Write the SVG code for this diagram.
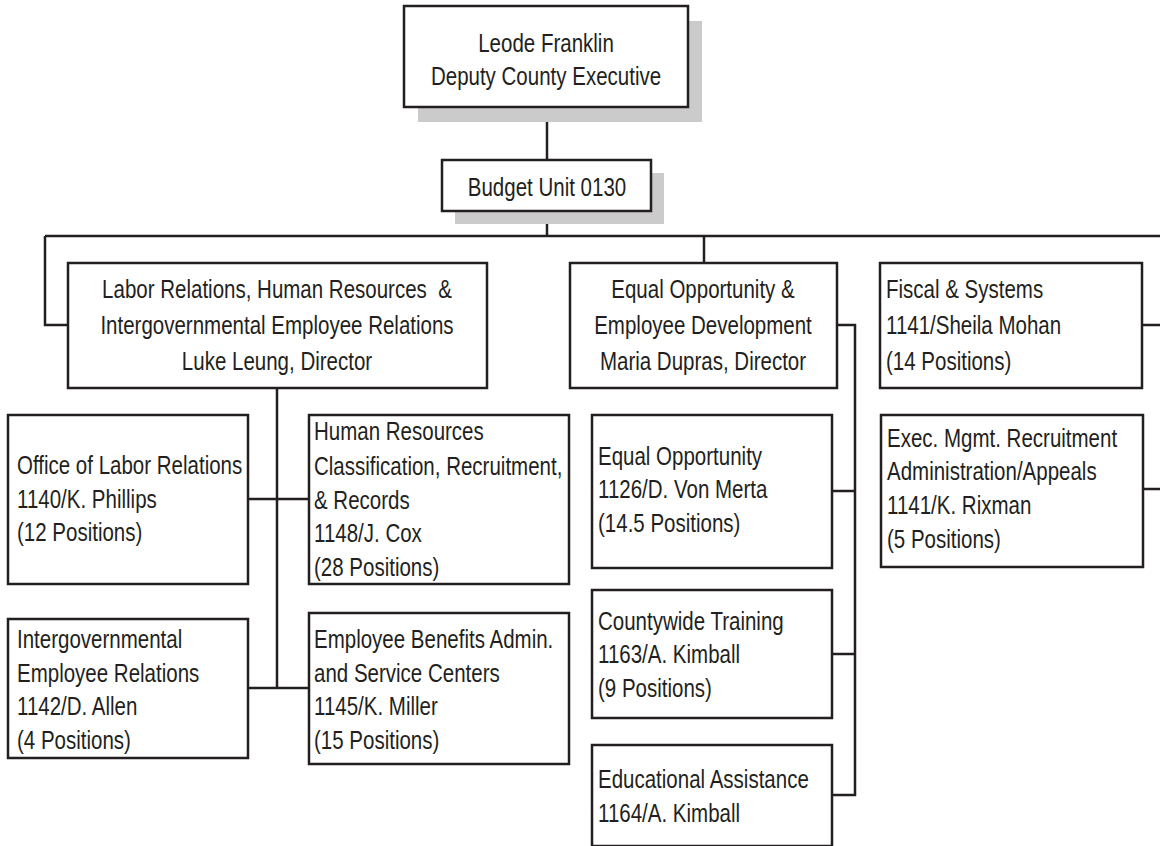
<svg xmlns="http://www.w3.org/2000/svg" width="1160" height="846" viewBox="0 0 1160 846">
  <style>
    .box { fill: #ffffff; stroke: #231f20; stroke-width: 2.5; }
    .shadow { fill: #cbcbcb; stroke: none; }
    .wire { fill: none; stroke: #231f20; stroke-width: 2.5; }
    text { font-family: "Liberation Sans", Arial, sans-serif; font-size: 25px; fill: #231f20; }
    .c { text-anchor: middle; }
  </style>
  <rect width="1160" height="846" fill="#ffffff"/>

  <!-- connectors -->
  <g id="connectors" class="wire">
    <path d="M547 107 V160"/>
    <path d="M547 211 V236"/>
    <path d="M45 236 H1160"/>
    <path d="M45 236 V325 H68"/>
    <path d="M704 236 V263"/>
    <path d="M277 388 V688"/>
    <path d="M248 499 H309"/>
    <path d="M248 688 H309"/>
    <path d="M837 325 H855 V795 H832"/>
    <path d="M832 491 H855"/>
    <path d="M832 654 H855"/>
    <path d="M1142 325 H1160"/>
    <path d="M1142 489 H1160"/>
  </g>

  <!-- condensed lettering: each line is scaled to 82% width -->
  <g id="deputy">
    <rect class="shadow" x="418" y="21" width="284" height="101"/>
    <rect class="box" x="404" y="6" width="284" height="101"/>
    <text class="c" transform="translate(546,52) scale(0.82,1)">Leode Franklin</text>
    <text class="c" transform="translate(546,85) scale(0.82,1)">Deputy County Executive</text>
  </g>

  <g id="budget-unit">
    <rect class="shadow" x="455" y="173" width="209" height="51"/>
    <rect class="box" x="442" y="160" width="209" height="51"/>
    <text class="c" transform="translate(547,196) scale(0.82,1)">Budget Unit 0130</text>
  </g>

  <g id="labor-relations">
    <rect class="box" x="68" y="263" width="419" height="125"/>
    <text class="c" transform="translate(277,298) scale(0.82,1)">Labor Relations, Human Resources&#160; &amp;</text>
    <text class="c" transform="translate(277,334) scale(0.82,1)">Intergovernmental Employee Relations</text>
    <text class="c" transform="translate(277,370) scale(0.82,1)">Luke Leung, Director</text>
  </g>

  <g id="equal-opportunity-dev">
    <rect class="box" x="570" y="263" width="267" height="125"/>
    <text class="c" transform="translate(703,298) scale(0.82,1)">Equal Opportunity &amp;</text>
    <text class="c" transform="translate(703,334) scale(0.82,1)">Employee Development</text>
    <text class="c" transform="translate(703,370) scale(0.82,1)">Maria Dupras, Director</text>
  </g>

  <g id="fiscal-systems">
    <rect class="box" x="880" y="263" width="262" height="125"/>
    <text transform="translate(886,298) scale(0.82,1)">Fiscal &amp; Systems</text>
    <text transform="translate(886,334) scale(0.82,1)">1141/Sheila Mohan</text>
    <text transform="translate(886,370) scale(0.82,1)">(14 Positions)</text>
  </g>

  <g id="office-labor-relations">
    <rect class="box" x="8" y="415" width="240" height="169"/>
    <text transform="translate(17,474) scale(0.82,1)">Office of Labor Relations</text>
    <text transform="translate(17,508) scale(0.82,1)">1140/K. Phillips</text>
    <text transform="translate(17,541) scale(0.82,1)">(12 Positions)</text>
  </g>

  <g id="human-resources">
    <rect class="box" x="309" y="415" width="260" height="169"/>
    <text transform="translate(314,440) scale(0.82,1)">Human Resources</text>
    <text transform="translate(314,475) scale(0.82,1)">Classification, Recruitment,</text>
    <text transform="translate(314,509) scale(0.82,1)">&amp; Records</text>
    <text transform="translate(314,542) scale(0.82,1)">1148/J. Cox</text>
    <text transform="translate(314,576) scale(0.82,1)">(28 Positions)</text>
  </g>

  <g id="intergovernmental">
    <rect class="box" x="8" y="619" width="240" height="139"/>
    <text transform="translate(17,648) scale(0.82,1)">Intergovernmental</text>
    <text transform="translate(17,682) scale(0.82,1)">Employee Relations</text>
    <text transform="translate(17,715) scale(0.82,1)">1142/D. Allen</text>
    <text transform="translate(17,749) scale(0.82,1)">(4 Positions)</text>
  </g>

  <g id="employee-benefits">
    <rect class="box" x="309" y="613" width="260" height="151"/>
    <text transform="translate(314,648) scale(0.82,1)">Employee Benefits Admin.</text>
    <text transform="translate(314,682) scale(0.82,1)">and Service Centers</text>
    <text transform="translate(314,715) scale(0.82,1)">1145/K. Miller</text>
    <text transform="translate(314,749) scale(0.82,1)">(15 Positions)</text>
  </g>

  <g id="equal-opportunity">
    <rect class="box" x="592" y="415" width="240" height="153"/>
    <text transform="translate(598,465) scale(0.82,1)">Equal Opportunity</text>
    <text transform="translate(598,498) scale(0.82,1)">1126/D. Von Merta</text>
    <text transform="translate(598,532) scale(0.82,1)">(14.5 Positions)</text>
  </g>

  <g id="countywide-training">
    <rect class="box" x="592" y="590" width="240" height="128"/>
    <text transform="translate(598,630) scale(0.82,1)">Countywide Training</text>
    <text transform="translate(598,663) scale(0.82,1)">1163/A. Kimball</text>
    <text transform="translate(598,697) scale(0.82,1)">(9 Positions)</text>
  </g>

  <g id="educational-assistance">
    <rect class="box" x="592" y="745" width="240" height="101"/>
    <text transform="translate(598,788) scale(0.82,1)">Educational Assistance</text>
    <text transform="translate(598,822) scale(0.82,1)">1164/A. Kimball</text>
  </g>

  <g id="exec-mgmt-recruitment">
    <rect class="box" x="881" y="415" width="262" height="152"/>
    <text transform="translate(887,447) scale(0.82,1)">Exec. Mgmt. Recruitment</text>
    <text transform="translate(887,480) scale(0.82,1)">Administration/Appeals</text>
    <text transform="translate(887,514) scale(0.82,1)">1141/K. Rixman</text>
    <text transform="translate(887,548) scale(0.82,1)">(5 Positions)</text>
  </g>
</svg>
